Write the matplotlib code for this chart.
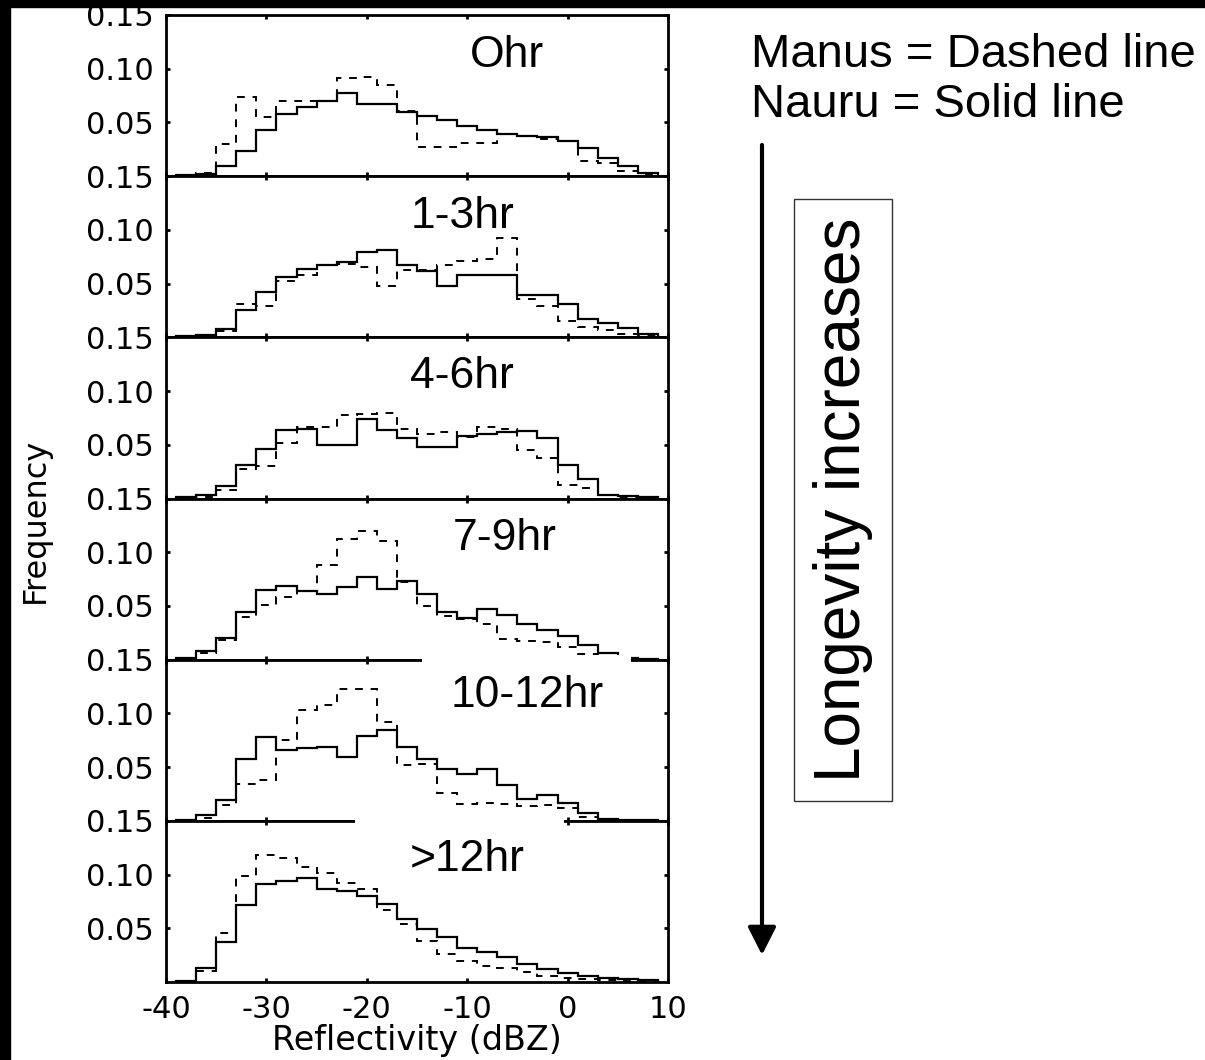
import numpy as np
import matplotlib.pyplot as plt
from matplotlib.patches import Rectangle, FancyArrowPatch

plt.rcParams['axes.unicode_minus'] = False

# bin edges of the reflectivity histograms (2 dBZ bins)
edges = np.arange(-39, 10, 2)

labels = ['Ohr', '1-3hr', '4-6hr', '7-9hr', '10-12hr', '>12hr']

# Nauru = solid line
nauru_0 = [0.001, 0.002, 0.009, 0.023, 0.043, 0.058, 0.064, 0.070, 0.077, 0.067, 0.067, 0.060,
           0.056, 0.052, 0.047, 0.043, 0.039, 0.037, 0.036, 0.033, 0.026, 0.017, 0.009, 0.003]
nauru_1 = [0.001, 0.002, 0.008, 0.025, 0.042, 0.056, 0.064, 0.067, 0.070, 0.079, 0.081, 0.067,
           0.062, 0.048, 0.058, 0.058, 0.058, 0.039, 0.039, 0.031, 0.017, 0.013, 0.009, 0.003]
nauru_2 = [0.001, 0.003, 0.012, 0.031, 0.046, 0.064, 0.065, 0.050, 0.050, 0.074, 0.064, 0.056,
           0.048, 0.048, 0.058, 0.060, 0.062, 0.063, 0.056, 0.031, 0.018, 0.003, 0.002, 0.001]
nauru_3 = [0.002, 0.008, 0.020, 0.044, 0.065, 0.069, 0.064, 0.061, 0.068, 0.077, 0.066, 0.073,
           0.061, 0.044, 0.039, 0.047, 0.042, 0.033, 0.028, 0.022, 0.014, 0.006, 0.002, 0.001]
nauru_4 = [0.001, 0.005, 0.019, 0.058, 0.078, 0.066, 0.068, 0.069, 0.059, 0.079, 0.085, 0.069,
           0.058, 0.048, 0.044, 0.048, 0.033, 0.020, 0.024, 0.017, 0.007, 0.002, 0.001, 0.001]
nauru_5 = [0.001, 0.013, 0.037, 0.072, 0.091, 0.094, 0.097, 0.087, 0.085, 0.080, 0.073, 0.059,
           0.049, 0.042, 0.032, 0.028, 0.023, 0.017, 0.012, 0.008, 0.006, 0.004, 0.003, 0.002]

# Manus = dashed line
manus_0 = [0.000, 0.003, 0.030, 0.074, 0.055, 0.070, 0.070, 0.070, 0.091, 0.092, 0.085, 0.061,
           0.027, 0.027, 0.031, 0.031, 0.039, 0.037, 0.035, 0.033, 0.014, 0.012, 0.005, 0.002]
manus_1 = [0.000, 0.002, 0.006, 0.031, 0.029, 0.052, 0.058, 0.067, 0.068, 0.065, 0.048, 0.063,
           0.063, 0.067, 0.071, 0.073, 0.092, 0.036, 0.029, 0.015, 0.010, 0.007, 0.003, 0.002]
manus_2 = [0.000, 0.001, 0.008, 0.027, 0.030, 0.052, 0.067, 0.067, 0.078, 0.079, 0.080, 0.065,
           0.060, 0.062, 0.057, 0.067, 0.065, 0.045, 0.038, 0.013, 0.010, 0.003, 0.001, 0.000]
manus_3 = [0.000, 0.006, 0.018, 0.040, 0.051, 0.058, 0.064, 0.088, 0.112, 0.120, 0.110, 0.072,
           0.050, 0.041, 0.038, 0.033, 0.019, 0.017, 0.016, 0.012, 0.005, 0.002, 0.001, 0.000]
manus_4 = [0.000, 0.003, 0.015, 0.034, 0.038, 0.075, 0.103, 0.108, 0.123, 0.123, 0.092, 0.052,
           0.053, 0.026, 0.016, 0.017, 0.016, 0.014, 0.015, 0.012, 0.004, 0.001, 0.000, 0.000]
manus_5 = [0.000, 0.010, 0.046, 0.099, 0.118, 0.115, 0.107, 0.101, 0.092, 0.087, 0.067, 0.054,
           0.038, 0.026, 0.020, 0.015, 0.013, 0.009, 0.006, 0.004, 0.003, 0.002, 0.001, 0.001]

nauru = [nauru_0, nauru_1, nauru_2, nauru_3, nauru_4, nauru_5]
manus = [manus_0, manus_1, manus_2, manus_3, manus_4, manus_5]

# label positions inside each panel (axes fraction)
label_x = [0.68, 0.59, 0.59, 0.675, 0.72, 0.60]
label_y = [0.75, 0.75, 0.76, 0.75, 0.78, 0.76]

W, H = 1205, 1060
fig = plt.figure(figsize=(W / 100, H / 100), dpi=100)

left, right = 166 / W, 668 / W
top, bottom = 1 - 15 / H, 1 - 982 / H
ph = (top - bottom) / 6

axes = []
for i in range(6):
    ax = fig.add_axes([left, top - (i + 1) * ph, right - left, ph])
    ax.stairs(nauru[i], edges, color='black', lw=1.6)
    ax.stairs(manus[i], edges, color='black', lw=1.4, linestyle=(0, (4, 4)))
    ax.set_xlim(-40, 10)
    ax.set_ylim(0, 0.15)
    ax.set_xticks([-40, -30, -20, -10, 0, 10])
    ax.set_yticks([0.05, 0.10, 0.15])
    ax.set_yticklabels(['0.05', '0.10', '0.15'])
    ax.tick_params(direction='in', length=3, width=2, top=True, right=True,
                   labelsize=22, pad=9)
    if i < 5:
        ax.tick_params(labelbottom=False)
    for s in ax.spines.values():
        s.set_linewidth(2)
    if i >= 4:
        # white text box that hides part of the frame above the label
        x0 = [0.51, 0.376][i - 4]
        ax.add_patch(Rectangle((x0, 0.64), 0.416, 0.39, transform=ax.transAxes,
                               facecolor='white', edgecolor='none', clip_on=False, zorder=3))
    ax.text(label_x[i], label_y[i], labels[i], transform=ax.transAxes, ha='center', va='center',
            fontsize=32, family='Liberation Sans', zorder=4)
    axes.append(ax)

fig.text(417 / W, 3 / H, 'Reflectivity (dBZ)', ha='center', va='bottom', fontsize=24)
fig.text(35 / W, 1 - 520 / H, 'Frequency', rotation=90, ha='center', va='center', fontsize=23)

# legend text and longevity arrow on the right
fig.text(751 / W, 1 - 55 / H, 'Manus = Dashed line', fontsize=34, family='Liberation Sans',
         va='center')
fig.text(751 / W, 1 - 105 / H, 'Nauru = Solid line', fontsize=34, family='Liberation Sans',
         va='center')
fig.add_artist(FancyArrowPatch((762 / W, 1 - 145 / H), (762 / W, 1 - 955 / H),
                               transform=fig.transFigure, color='black', lw=3,
                               arrowstyle='-|>,head_length=0.85,head_width=0.43',
                               mutation_scale=20, shrinkA=0, shrinkB=0))
fig.text(843 / W, 1 - 500 / H, 'Longevity increases', rotation=90, ha='center', va='center',
         fontsize=46, family='Liberation Sans',
         bbox=dict(boxstyle='square,pad=0.3', facecolor='white', edgecolor='#333333', lw=1))

# black borders of the screenshot
fig.add_artist(Rectangle((0, 1 - 7 / H), 1, 7 / H, transform=fig.transFigure,
                         color='black', zorder=10))
fig.add_artist(Rectangle((0, 0), 10 / W, 1, transform=fig.transFigure,
                         color='black', zorder=10))

plt.savefig('out.png', dpi=100)
